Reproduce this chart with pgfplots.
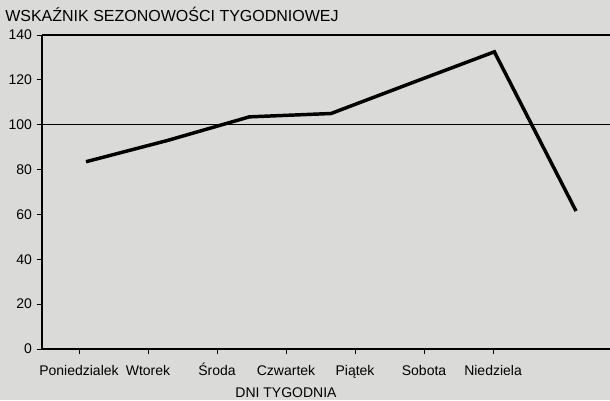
\documentclass[border=0pt]{standalone}
\usepackage{pgfplots}
\pgfplotsset{compat=1.18}
\usepackage{fontspec}
\setmainfont{Liberation Sans}
\definecolor{bg}{RGB}{218,218,216}
\begin{document}
\begin{tikzpicture}
\fill[bg] (-31.5pt,-38.25pt) rectangle (426pt,261.75pt);
\useasboundingbox (-31.5pt,-38.25pt) rectangle (426pt,261.75pt);
\begin{axis}[at={(0,0)}, anchor=south west, scale only axis,
  width=426pt, height=235.5pt,
  xmin=-0.539, xmax=6.416, ymin=0, ymax=140,
  axis lines*=left,
  axis line style={line width=0.8pt},
  ytick={0,20,...,140},
  xtick={-0.086,0.759,1.604,2.449,3.294,4.139,4.984},
  xticklabels={Poniedzialek,Wtorek,Środa,Czwartek,Piątek,Sobota,Niedziela},
  tick align=outside, major tick length=4pt,
  tick style={black, line width=0.6pt},
  extra y ticks={100,140}, extra y tick labels={},
  extra y tick style={grid=major, major grid style={black, line width=0.8pt}},
  tick label style={font=\fontsize{10.5}{12}\selectfont},
  xticklabel style={text height=8pt, text depth=2.5pt, yshift=-4.5pt},
  /pgf/number format/assume math mode=true,
  xlabel={DNI TYGODNIA},
  xlabel style={font=\fontsize{10.5}{12}\selectfont, text height=8pt, text depth=2.5pt, yshift=1pt, xshift=-30pt},
  clip=false,
]
\addplot[black, line width=2.6pt, line join=miter] coordinates {(0,83.5)(1,93)(2,103.5)(3,105)(4,118.8)(5,132.5)(6,61.5)};
\node[anchor=base west, font=\fontsize{12}{14}\selectfont, inner sep=0pt] at (rel axis cs:0,1) [xshift=-27.75pt, yshift=10.5pt] {WSKAŹNIK SEZONOWOŚCI TYGODNIOWEJ};
\end{axis}
\end{tikzpicture}
\end{document}
